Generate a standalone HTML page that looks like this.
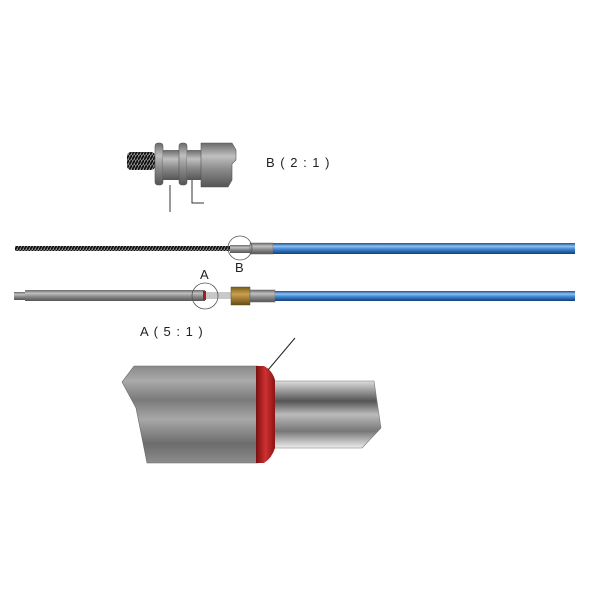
<!DOCTYPE html>
<html><head><meta charset="utf-8"><style>
html,body{margin:0;padding:0;background:#fff;width:600px;height:600px;overflow:hidden}
svg text{font-family:"Liberation Sans",sans-serif;fill:#222}
</style></head><body>
<svg width="600" height="600" viewBox="0 0 600 600" xmlns="http://www.w3.org/2000/svg">
<defs>
<linearGradient id="blue" x1="0" y1="0" x2="0" y2="1">
<stop offset="0" stop-color="#1d4f8a"/><stop offset="0.3" stop-color="#8cc0f2"/><stop offset="0.55" stop-color="#3f88d8"/><stop offset="1" stop-color="#153f72"/></linearGradient>
<linearGradient id="grey" x1="0" y1="0" x2="0" y2="1">
<stop offset="0" stop-color="#6a6a6a"/><stop offset="0.3" stop-color="#c0c0c0"/><stop offset="0.6" stop-color="#8a8a8a"/><stop offset="1" stop-color="#555"/></linearGradient>
<linearGradient id="body" x1="0" y1="0" x2="0" y2="1">
<stop offset="0" stop-color="#8a8a8a"/><stop offset="0.15" stop-color="#aaa"/><stop offset="0.35" stop-color="#7a7a7a"/><stop offset="0.55" stop-color="#a8a8a8"/><stop offset="0.8" stop-color="#6c6c6c"/><stop offset="1" stop-color="#8c8c8c"/></linearGradient>
<linearGradient id="rod" x1="0" y1="0" x2="0" y2="1">
<stop offset="0" stop-color="#ddd"/><stop offset="0.3" stop-color="#555"/><stop offset="0.5" stop-color="#bbb"/><stop offset="0.75" stop-color="#777"/><stop offset="1" stop-color="#eee"/></linearGradient>
<linearGradient id="red" x1="0" y1="0" x2="1" y2="0">
<stop offset="0" stop-color="#7a0f0f"/><stop offset="0.5" stop-color="#d03030"/><stop offset="1" stop-color="#8a1515"/></linearGradient>
<linearGradient id="brass" x1="0" y1="0" x2="0" y2="1">
<stop offset="0" stop-color="#7a5a1a"/><stop offset="0.4" stop-color="#c9a050"/><stop offset="1" stop-color="#6a4a12"/></linearGradient>
<pattern id="spring" width="3" height="5" patternUnits="userSpaceOnUse"><rect width="3" height="5" fill="#888"/><path d="M0 5 L3 0" stroke="#111" stroke-width="1.8"/></pattern>
</defs>

<g>
<rect x="127" y="152" width="28" height="18" rx="4" fill="url(#spring)"/>
<rect x="155" y="143" width="8" height="42" rx="3" fill="url(#grey)" stroke="#555" stroke-width="0.6"/>
<rect x="163" y="150" width="16" height="30" fill="url(#grey)"/>
<rect x="179" y="143" width="8" height="42" rx="3" fill="url(#grey)" stroke="#555" stroke-width="0.6"/>
<rect x="187" y="150" width="14" height="30" fill="url(#grey)"/>
<path d="M201 143 H232 L236 150 V160 L232 164 V180 L228 187 H201 Z" fill="url(#grey)" stroke="#555" stroke-width="0.6"/>
<line x1="170" y1="185" x2="170" y2="212" stroke="#333"/>
<path d="M192 180 V203 H204" fill="none" stroke="#333"/>
</g>
<text x="266" y="167" font-size="13" letter-spacing="1">B ( 2 : 1 )</text>

<rect x="15" y="246" width="215" height="5" fill="url(#spring)"/>
<rect x="230" y="245" width="20" height="8" fill="url(#grey)"/>
<rect x="250" y="243" width="23" height="11" fill="url(#grey)" stroke="#666" stroke-width="0.5"/>
<rect x="273" y="243" width="302" height="11" fill="url(#blue)"/>
<circle cx="240" cy="248" r="12" fill="none" stroke="#555" stroke-width="0.8"/>
<text x="235" y="272" font-size="13">B</text>

<rect x="14" y="292" width="11" height="8" fill="url(#grey)"/>
<rect x="25" y="290" width="180" height="11" fill="url(#grey)"/>
<rect x="205" y="292" width="27" height="7" fill="#c8c8c8"/>
<rect x="203" y="291" width="3" height="9" fill="#a02020"/>
<rect x="231" y="287" width="19" height="18" fill="url(#brass)" stroke="#553" stroke-width="0.5"/>
<rect x="250" y="290" width="25" height="12" fill="url(#grey)" stroke="#666" stroke-width="0.5"/>
<rect x="275" y="291" width="300" height="10" fill="url(#blue)"/>
<circle cx="205" cy="296" r="13" fill="none" stroke="#555" stroke-width="0.8"/>
<text x="200" y="279" font-size="13">A</text>

<text x="140" y="336" font-size="13" letter-spacing="1">A ( 5 : 1 )</text>

<path d="M273 381 H374 L381 428 L362 448 H273 Z" fill="url(#rod)" stroke="#777" stroke-width="0.6"/>
<path d="M134 366 H258 V463 H147 L136 408 L122 382 Z" fill="url(#body)" stroke="#666" stroke-width="0.6"/>
<path d="M256 366 H264 Q272 370 275 380 V448 Q272 458 264 463 H256 Z" fill="url(#red)"/>
<line x1="268" y1="370" x2="295" y2="338" stroke="#222"/>
</svg>
</body></html>
